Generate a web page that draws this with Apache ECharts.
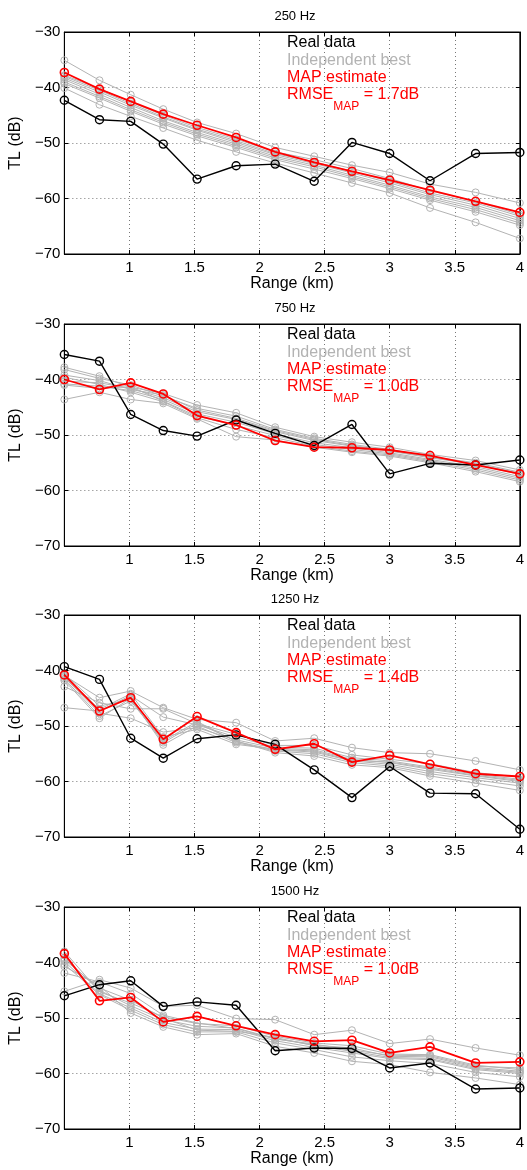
<!DOCTYPE html>
<html>
<head>
<meta charset="utf-8">
<script src="https://cdn.jsdelivr.net/npm/echarts@6/dist/echarts.min.js"></script>
<style>html,body{margin:0;padding:0;background:#fff}#c{width:527px;height:1170px}</style>
</head>
<body>
<div id="c"></div>
<script>
// Range points (km)
const ranges = [0.5, 0.77, 1.01, 1.26, 1.52, 1.82, 2.12, 2.42, 2.71, 3.0, 3.31, 3.66, 4.0];
const freqLabels = ['250 Hz', '750 Hz', '1250 Hz', '1500 Hz'];
const rmseLabels = ['1.7dB', '1.0dB', '1.4dB', '1.0dB'];
const xTicks = [1, 1.5, 2, 2.5, 3, 3.5, 4];
const yTicks = [-70, -60, -50, -40, -30];

// 250 Hz
const real250 = [-42.3, -45.8, -46.1, -50.2, -56.5, -54.1, -53.8, -56.9, -49.9, -51.9, -56.8, -51.9, -51.7];
const map250 = [-37.3, -40.3, -42.5, -44.8, -46.8, -49.0, -51.6, -53.5, -55.1, -56.7, -58.5, -60.5, -62.5];
const indep250 = [
  [-35.1, -38.7, -41.3, -43.9, -46.3, -48.3, -50.8, -52.4, -54.0, -55.3, -57.4, -58.9, -60.8],
  [-37.8, -40.2, -42.6, -45.0, -47.2, -49.3, -51.6, -53.0, -54.6, -56.4, -58.6, -60.5, -62.9],
  [-38.3, -40.8, -43.2, -45.5, -47.7, -49.9, -52.1, -53.7, -55.4, -57.2, -59.3, -61.2, -63.6],
  [-38.6, -41.2, -43.6, -46.0, -48.1, -50.2, -52.4, -54.0, -55.8, -57.6, -59.7, -61.6, -64.0],
  [-39.0, -41.6, -44.0, -46.3, -48.4, -50.5, -52.7, -54.3, -56.1, -57.9, -60.0, -62.0, -64.4],
  [-39.3, -41.9, -44.3, -46.6, -48.7, -50.8, -53.0, -54.7, -56.4, -58.2, -60.3, -62.4, -64.8],
  [-38.0, -40.5, -42.9, -45.3, -47.5, -49.6, -51.9, -53.4, -55.1, -56.9, -59.0, -60.8, -63.2],
  [-40.1, -43.1, -45.2, -47.3, -49.5, -51.6, -53.6, -55.4, -57.2, -59.0, -61.7, -64.3, -67.2]
];

// 750 Hz
const real750 = [-35.5, -36.7, -46.3, -49.2, -50.2, -47.3, -49.7, -51.9, -48.1, -57.0, -55.1, -55.4, -54.5];
const map750 = [-40.0, -41.8, -40.6, -42.6, -46.5, -48.2, -51.0, -52.2, -52.3, -52.7, -53.7, -55.4, -57.0];
const indep750 = [
  [-37.8, -39.4, -41.4, -42.5, -44.6, -46.0, -48.6, -50.3, -51.3, -52.2, -53.5, -54.6, -56.3],
  [-38.2, -39.8, -41.0, -43.0, -45.2, -46.6, -49.0, -50.6, -51.7, -52.6, -53.9, -55.0, -56.7],
  [-40.3, -40.6, -41.6, -43.3, -45.8, -47.2, -49.4, -51.0, -52.0, -52.9, -54.1, -55.3, -57.1],
  [-40.8, -41.2, -42.0, -43.6, -46.2, -47.7, -49.8, -51.4, -52.3, -53.2, -54.4, -55.7, -57.5],
  [-41.0, -41.6, -41.3, -43.9, -46.6, -48.3, -50.1, -51.7, -52.6, -53.4, -54.6, -56.0, -57.8],
  [-39.6, -40.9, -42.3, -44.0, -46.9, -49.0, -50.5, -52.0, -52.9, -53.6, -54.8, -56.3, -58.1],
  [-43.6, -42.3, -43.6, -44.3, -47.1, -50.3, -50.9, -52.2, -53.1, -53.8, -55.0, -56.6, -58.4],
  [-39.2, -40.2, -41.8, -42.8, -45.5, -47.0, -49.2, -50.8, -51.9, -52.8, -54.0, -55.2, -56.9]
];

// 1250 Hz
const real1250 = [-39.3, -41.6, -52.2, -55.8, -52.3, -51.6, -53.3, -57.9, -62.9, -57.3, -62.1, -62.2, -68.6];
const map1250 = [-40.8, -47.3, -44.9, -52.4, -48.3, -51.2, -54.2, -53.2, -56.5, -55.3, -56.9, -58.6, -59.1];
const indep1250 = [
  [-40.9, -44.9, -43.7, -46.7, -48.8, -49.4, -52.7, -52.2, -53.9, -54.8, -55.0, -56.3, -57.9],
  [-42.9, -45.8, -46.9, -46.9, -49.6, -51.5, -53.5, -53.5, -55.2, -56.0, -56.8, -58.4, -59.2],
  [-46.7, -47.3, -44.5, -48.4, -49.8, -52.0, -53.8, -54.0, -55.7, -56.3, -57.4, -58.7, -59.6],
  [-41.2, -47.7, -48.6, -51.1, -50.3, -52.5, -54.0, -54.3, -56.0, -56.6, -57.8, -59.0, -60.0],
  [-41.5, -48.2, -45.5, -52.7, -49.2, -52.8, -54.3, -54.7, -56.3, -56.9, -58.2, -59.3, -60.3],
  [-41.8, -48.6, -45.0, -53.4, -50.0, -53.0, -54.5, -55.0, -56.6, -57.2, -58.6, -59.7, -60.8],
  [-40.6, -46.4, -45.2, -53.0, -49.5, -52.7, -54.8, -55.4, -57.0, -57.5, -59.0, -60.3, -61.6],
  [-41.0, -47.0, -44.2, -52.0, -50.6, -53.3, -54.2, -54.5, -56.2, -56.5, -57.6, -58.9, -59.8]
];

// 1500 Hz
const real1500 = [-46.0, -44.0, -43.3, -47.9, -47.1, -47.7, -55.9, -55.4, -55.5, -59.0, -58.1, -62.8, -62.6];
const map1500 = [-38.4, -46.9, -46.3, -50.7, -49.7, -51.4, -53.0, -54.2, -54.0, -56.3, -55.2, -58.1, -57.9];
const indep1500 = [
  [-45.2, -43.1, -44.6, -47.9, -47.7, -50.1, -50.3, -53.0, -52.2, -54.6, -53.8, -55.4, -56.7],
  [-38.0, -45.3, -47.3, -49.8, -51.0, -51.4, -53.3, -54.5, -55.0, -56.5, -56.6, -58.5, -59.3],
  [-39.2, -45.0, -47.8, -50.3, -51.5, -51.8, -53.7, -54.9, -55.4, -56.9, -57.0, -58.9, -59.6],
  [-39.8, -45.6, -48.2, -50.8, -52.0, -52.1, -54.1, -55.3, -56.3, -57.3, -57.5, -59.3, -60.0],
  [-40.3, -45.8, -48.6, -51.2, -52.5, -52.5, -54.5, -55.7, -57.0, -57.7, -58.2, -59.8, -60.6],
  [-40.7, -44.2, -49.1, -51.6, -53.0, -52.8, -55.1, -56.3, -57.8, -58.4, -59.8, -60.8, -62.0],
  [-41.9, -43.5, -45.6, -49.5, -50.9, -51.9, -53.8, -54.7, -55.8, -56.7, -56.8, -58.7, -59.0],
  [-39.5, -44.6, -46.8, -50.0, -52.2, -52.4, -53.5, -55.0, -56.0, -57.1, -57.3, -59.1, -59.8]
];

const realAll = [real250, real750, real1250, real1500];
const mapAll = [map250, map750, map1250, map1500];
const indepAll = [indep250, indep750, indep1250, indep1500];

const FONT = '"Liberation Sans", Arial, Helvetica, sans-serif';
const GRAY = '#b3b3b3';
const panelTops = [32, 324, 615, 907];
const gridLeft = 64, gridW = 461, gridH = 222;

const pair = arr => ranges.map((x, i) => [x, arr[i]]);
const fmtY = v => (v < 0 ? '\u2212' + Math.abs(v) : String(v));

const grids = [], xAxes = [], yAxes = [], series = [], titles = [];
panelTops.forEach((top, p) => {
  grids.push({left: gridLeft, top: top, width: gridW, height: gridH, show: true,
    borderColor: '#000', borderWidth: 1, backgroundColor: 'transparent', containLabel: false});
  const common = {type: 'value', gridIndex: p, min: 0.5, max: 4, interval: 0.5};
  xAxes.push(Object.assign({}, common, {
    position: 'bottom',
    name: 'Range (km)', nameLocation: 'middle', nameGap: 20,
    nameTextStyle: {fontFamily: FONT, fontSize: 16, color: '#000'},
    axisLine: {show: true, lineStyle: {color: '#000', width: 1}},
    axisTick: {show: true, inside: true, length: 4, lineStyle: {color: '#000'}},
    axisLabel: {show: true, fontFamily: FONT, fontSize: 15, color: '#000', margin: 6,
      formatter: v => (xTicks.indexOf(v) >= 0 ? String(v) : '')},
    splitLine: {show: true, lineStyle: {color: '#777', width: 1, type: [1, 3]}}
  }));
  xAxes.push(Object.assign({}, common, {
    position: 'top',
    axisLine: {show: true, lineStyle: {color: '#000', width: 1}},
    axisTick: {show: true, inside: true, length: 4, lineStyle: {color: '#000'}},
    axisLabel: {show: false}, splitLine: {show: false}
  }));
  const ycommon = {type: 'value', gridIndex: p, min: -70, max: -30, interval: 10};
  yAxes.push(Object.assign({}, ycommon, {
    position: 'left',
    name: 'TL (dB)', nameLocation: 'middle', nameGap: 32,
    nameTextStyle: {fontFamily: FONT, fontSize: 16, color: '#000'},
    axisLine: {show: true, lineStyle: {color: '#000', width: 1}},
    axisTick: {show: true, inside: true, length: 4, lineStyle: {color: '#000'}},
    axisLabel: {show: true, fontFamily: FONT, fontSize: 15, color: '#000', margin: 4,
      formatter: v => (yTicks.indexOf(v) >= 0 ? fmtY(v) : '')},
    splitLine: {show: true, lineStyle: {color: '#777', width: 1, type: [1, 3]}}
  }));
  yAxes.push(Object.assign({}, ycommon, {
    position: 'right',
    axisLine: {show: true, lineStyle: {color: '#000', width: 1}},
    axisTick: {show: true, inside: true, length: 4, lineStyle: {color: '#000'}},
    axisLabel: {show: false}, splitLine: {show: false}
  }));

  const xi = 2 * p, yi = 2 * p;
  series.push({type: 'line', xAxisIndex: xi, yAxisIndex: yi, data: pair(realAll[p]), z: 3,
    symbol: 'circle', symbolSize: 8, showSymbol: true,
    lineStyle: {color: '#000', width: 1.4},
    itemStyle: {color: 'rgba(0,0,0,0)', borderColor: '#000', borderWidth: 1.4},
    animation: false, silent: true});
  indepAll[p].forEach(g => {
    series.push({type: 'line', xAxisIndex: xi, yAxisIndex: yi, data: pair(g), z: 2,
      symbol: 'circle', symbolSize: 7,
      lineStyle: {color: GRAY, width: 1},
      itemStyle: {color: 'rgba(0,0,0,0)', borderColor: GRAY, borderWidth: 1},
      animation: false, silent: true});
  });
  series.push({type: 'line', xAxisIndex: xi, yAxisIndex: yi, data: pair(mapAll[p]), z: 4,
    symbol: 'circle', symbolSize: 8,
    lineStyle: {color: '#ff0000', width: 1.8},
    itemStyle: {color: 'rgba(0,0,0,0)', borderColor: '#ff0000', borderWidth: 1.6},
    animation: false, silent: true});

  titles.push({text: freqLabels[p], left: 295, textAlign: 'center', top: top - 24, padding: 0,
    textStyle: {fontFamily: FONT, fontSize: 13, fontWeight: 'normal', color: '#000', lineHeight: 16}});
  titles.push({
    text: '{k|Real data}\n{g|Independent best}\n{r|MAP estimate}\n{r4|RMSE}{s|MAP}{r4| = ' + rmseLabels[p] + '}',
    left: 287, top: top + 2, padding: 0,
    textStyle: {fontFamily: FONT, fontSize: 16, fontWeight: 'normal', lineHeight: 17.5,
      rich: {
        k: {color: '#000', fontFamily: FONT, fontSize: 16, lineHeight: 17.5},
        g: {color: GRAY, fontFamily: FONT, fontSize: 16, lineHeight: 17.5},
        r: {color: '#ff0000', fontFamily: FONT, fontSize: 16, lineHeight: 17.5},
        r4: {color: '#ff0000', fontFamily: FONT, fontSize: 16, lineHeight: 20, verticalAlign: 'top'},
        s: {color: '#ff0000', fontFamily: FONT, fontSize: 12, lineHeight: 12, verticalAlign: 'top', padding: [14, 0, 0, 0]}
      }}
  });
});

const chart = echarts.init(document.getElementById('c'), null, {renderer: 'canvas'});
chart.setOption({
  animation: false,
  backgroundColor: '#fff',
  title: titles,
  grid: grids,
  xAxis: xAxes,
  yAxis: yAxes,
  series: series
});
</script>
</body>
</html>
